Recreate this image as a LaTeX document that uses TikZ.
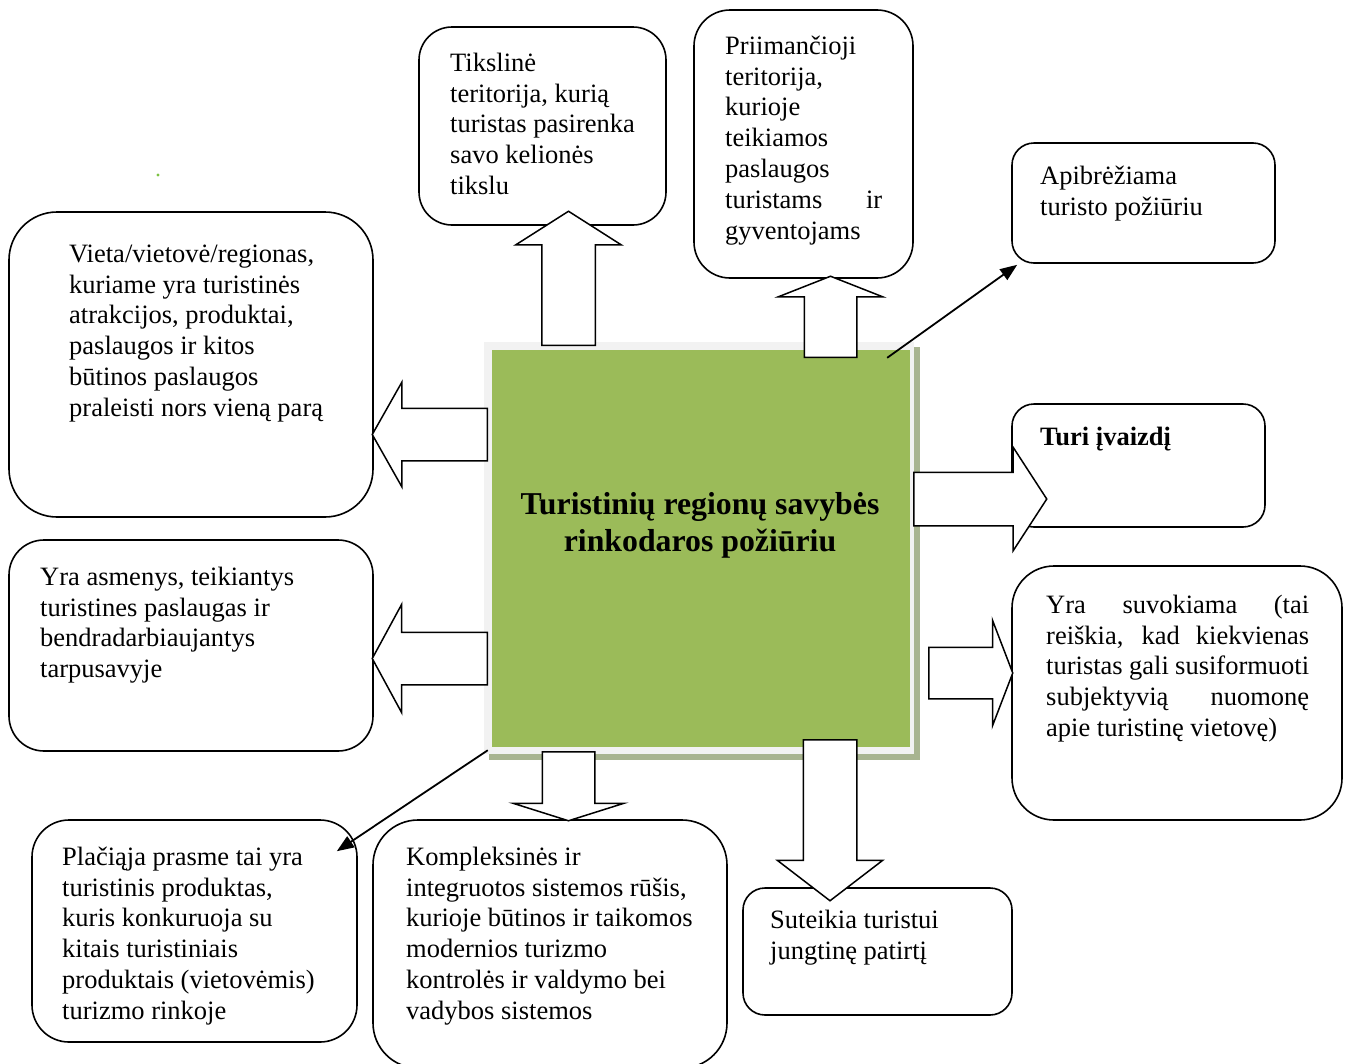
\documentclass[tikz,border=0pt]{standalone}
\usepackage{fontspec}
\setmainfont{Liberation Serif}
\usetikzlibrary{shapes.arrows,arrows.meta}

\definecolor{regiongreen}{HTML}{9BBB59}
\definecolor{framegray}{HTML}{F2F2F2}
\definecolor{shadowgreen}{HTML}{A8B490}
\definecolor{dotgreen}{HTML}{7CC242}

\newcommand{\bodyfont}{\fontsize{26.5}{30.8}\selectfont}
\newcommand{\titlefont}{\fontsize{31.8}{37}\selectfont\bfseries}

\begin{document}
\begin{tikzpicture}[x=1pt,y=-1pt,
    box/.style={draw, line width=1.6pt, inner sep=0pt},
    % coordinate = baseline of the first line
    txt/.style={anchor=north west, yshift=21.56pt, inner sep=0pt, align=left, font=\bodyfont},
    bigarrow/.style={single arrow, draw, fill=white, line width=1.5pt, inner xsep=0pt, anchor=tail},
    thinarrow/.style={line width=1.8pt, -{Triangle[length=17pt,width=13pt]}}]
    \useasboundingbox (0,0) rectangle (1346,1063);

    % central box
    \fill[shadowgreen] (489,347) rectangle (920,760);
    \fill[framegray] (484,342) rectangle (914,754);
    \node[fill=regiongreen, minimum width=418, minimum height=397, inner sep=0pt] (reg) at (701,548.5) {};
    \node[font=\titlefont, align=center, anchor=base, inner sep=0pt] (title) at (700,551)
        {Turistinių regionų savybės\\rinkodaros požiūriu};

    % boxes
    \node[box, rounded corners=33, minimum width=247, minimum height=198] (tiks) at (542.5,126) {};
    \node[box, rounded corners=36, minimum width=219, minimum height=268] (prii) at (803.5,144) {};
    \node[box, rounded corners=22, minimum width=263, minimum height=120] (apib) at (1143.5,203) {};
    \node[box, rounded corners=48, minimum width=364, minimum height=305] (viet) at (191,364.5) {};
    \node[box, rounded corners=22, minimum width=253, minimum height=123] (turi) at (1138.5,465.5) {};
    \node[box, rounded corners=35, minimum width=364, minimum height=211] (asme) at (191,645.5) {};
    \node[box, rounded corners=42, minimum width=330, minimum height=254] (suvo) at (1177,693) {};
    \node[box, rounded corners=37, minimum width=325, minimum height=222] (plac) at (194.5,931) {};
    \node[box, rounded corners=45, minimum width=354, minimum height=248] (komp) at (550,944) {};
    \node[box, rounded corners=22, minimum width=269, minimum height=127] (sute) at (877.5,951.5) {};

    % texts
    \node[txt] (tikst) at (450,71) {\strut Tikslinė\\teritorija, kurią\\turistas pasirenka\\savo kelionės\\tikslu};
    \node[txt] (priit) at (725,54) {\strut Priimančioji\\teritorija,\\kurioje\\teikiamos\\paslaugos\\
        \makebox[157pt][s]{turistams ir}\\gyventojams};
    \node[txt] (apibt) at (1040,184) {\strut Apibrėžiama\\turisto požiūriu};
    \node[txt] (viett) at (69,262) {\strut Vieta/vietovė/regionas,\\kuriame yra turistinės\\atrakcijos, produktai,\\
        paslaugos ir kitos\\būtinos paslaugos\\praleisti nors vieną parą};
    \node[txt, font=\bodyfont\bfseries] (turit) at (1040,445) {\strut Turi įvaizdį};
    \node[txt] (asmet) at (40,585) {\strut Yra asmenys, teikiantys\\turistines paslaugas ir\\bendradarbiaujantys\\tarpusavyje};
    \node[txt] (suvot) at (1046,613) {\strut\makebox[263pt][s]{Yra suvokiama (tai}\\
        \makebox[263pt][s]{reiškia, kad kiekvienas}\\\makebox[263pt][s]{turistas gali susiformuoti}\\
        \makebox[263pt][s]{subjektyvią nuomonę}\\apie turistinę vietovę)};
    \node[txt] (plact) at (62,865) {\strut Plačiąja prasme tai yra\\turistinis produktas,\\kuris konkuruoja su\\
        kitais turistiniais\\produktais (vietovėmis)\\turizmo rinkoje};
    \node[txt] (kompt) at (406,865) {\strut Kompleksinės ir\\integruotos sistemos rūšis,\\kurioje būtinos ir taikomos\\
        modernios turizmo\\kontrolės ir valdymo bei\\vadybos sistemos};
    \node[txt] (sutet) at (770,928) {\strut Suteikia turistui\\jungtinę patirtį};

    % block arrows, placed at their tails
    \node[bigarrow, rotate=90, minimum height=134, inner ysep=26, single arrow head extend=26,
        single arrow tip angle=115] (up1) at (568.5,346) {};
    \node[bigarrow, rotate=90, minimum height=81, inner ysep=25.5, single arrow head extend=26,
        single arrow tip angle=137] (up2) at (830.5,358) {};
    \node[bigarrow, rotate=180, minimum height=115, inner ysep=25.5, single arrow head extend=26,
        single arrow tip angle=121] (left1) at (488,434.5) {};
    \node[bigarrow, rotate=180, minimum height=115, inner ysep=25.5, single arrow head extend=28,
        single arrow tip angle=123] (left2) at (488,658.5) {};
    \node[bigarrow, minimum height=133, inner ysep=26, single arrow head extend=25,
        single arrow tip angle=114] (right1) at (913,499) {};
    \node[bigarrow, minimum height=84, inner ysep=25, single arrow head extend=27,
        single arrow tip angle=138] (right2) at (928,673) {};
    \node[bigarrow, rotate=-90, minimum height=69, inner ysep=25.5, single arrow head extend=29,
        single arrow tip angle=145] (down1) at (568.5,751) {};
    \node[bigarrow, rotate=-90, minimum height=161, inner ysep=26, single arrow head extend=26,
        single arrow tip angle=105] (down2) at (830,739) {};

    % line arrows
    \coordinate (regne) at ([shift={(-23,8)}]reg.north east);
    \coordinate (apibend) at ([shift={(6,1)}]apib.south west);
    \coordinate (regsw) at ([shift={(-4,3)}]reg.south west);
    \coordinate (placend) at ([shift={(-21,32)}]plac.north east);
    \path[thinarrow]
    (regne) edge (apibend)
    (regsw) edge (placend);

    \fill[dotgreen] (158,175) circle (1.6);
\end{tikzpicture}
\end{document}
